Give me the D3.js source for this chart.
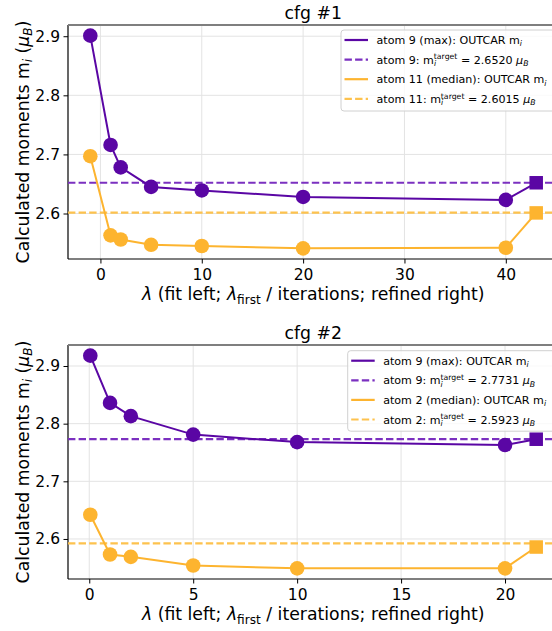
<!DOCTYPE html>
<html>
<head>
<meta charset="utf-8">
<script src="https://cdn.jsdelivr.net/npm/d3@7/dist/d3.min.js"></script>
<style>
  html, body { margin: 0; padding: 0; background: #fff; overflow: hidden; }
  svg { display: block; font-family: "DejaVu Sans", sans-serif; }
</style>
</head>
<body>
<svg id="chart" width="552" height="631"></svg>
<script>
// ---- data ----
const cfg1Lambda = [-1, 1, 2, 5, 10, 20, 40];
const cfg1Refined = 43;
const cfg1AtomA = [2.901, 2.716, 2.678, 2.645, 2.639, 2.628, 2.623];
const cfg1AtomARefined = 2.652;
const cfg1AtomB = [2.697, 2.563, 2.556, 2.547, 2.545, 2.541, 2.542];
const cfg1AtomBRefined = 2.601;
const cfg1TargetA = 2.6520;
const cfg1TargetB = 2.6015;
const cfg1XTicks = [0, 10, 20, 30, 40];

const cfg2Lambda = [0.05, 1, 2, 5, 10, 20];
const cfg2Refined = 21.5;
const cfg2AtomA = [2.918, 2.836, 2.813, 2.781, 2.768, 2.763];
const cfg2AtomARefined = 2.773;
const cfg2AtomB = [2.642, 2.573, 2.569, 2.554, 2.549, 2.549];
const cfg2AtomBRefined = 2.586;
const cfg2TargetA = 2.7731;
const cfg2TargetB = 2.5923;
const cfg2XTicks = [0, 5, 10, 15, 20];

const yTicks = [2.6, 2.7, 2.8, 2.9];

const PURPLE = "#5a06a4";
const ORANGE = "#fdb42f";
const PURPLE_D = "#7b30c0";
const ORANGE_D = "#fdc24e";

const TICK_FS = 15.5;
const LABEL_FS = 17.3;
const LEGEND_FS = 11.1;

const svg = d3.select("#chart");

// Append rich text made of segments: {t, it, sub, sup, dx}
function rich(sel, segs, baseSize) {
  let level = 0; // current baseline offset in px
  segs.forEach(s => {
    const ts = sel.append("tspan").text(s.t);
    let target = 0;
    let size = baseSize;
    if (s.sub) { target = baseSize * 0.22; size = baseSize * 0.7; }
    if (s.sup) { target = -baseSize * 0.38; size = baseSize * 0.7; }
    const dy = target - level;
    if (dy !== 0) ts.attr("dy", dy);
    level = target;
    ts.attr("font-size", size);
    if (s.it) ts.attr("font-style", "italic");
    if (s.dx) ts.attr("dx", s.dx);
  });
}

function panel(opt) {
  const { top, bottom, left, right } = opt;
  const allX = opt.lambda.concat([opt.refined]);
  const xe = d3.extent(allX);
  const xm = (xe[1] - xe[0]) * 0.05;
  const allY = opt.a.concat(opt.b, [opt.aRef, opt.bRef]);
  const ye = d3.extent(allY);
  const ym = (ye[1] - ye[0]) * 0.05;
  const x = d3.scaleLinear().domain([xe[0] - xm, xe[1] + xm]).range([left, right]);
  const y = d3.scaleLinear().domain([ye[0] - ym, ye[1] + ym]).range([bottom, top]);

  const g = svg.append("g");

  // grid
  g.selectAll(".gx").data(opt.xTicks).join("line")
    .attr("x1", d => x(d)).attr("x2", d => x(d))
    .attr("y1", top).attr("y2", bottom)
    .attr("stroke", "#e3e3e3").attr("stroke-width", 1);
  g.selectAll(".gy").data(yTicks).join("line")
    .attr("x1", left).attr("x2", right)
    .attr("y1", d => y(d)).attr("y2", d => y(d))
    .attr("stroke", "#e3e3e3").attr("stroke-width", 1);

  // axes
  const xAxis = d3.axisBottom(x).tickValues(opt.xTicks).tickFormat(d3.format("d"))
    .tickSize(4.5).tickPadding(5.5);
  const yAxis = d3.axisLeft(y).tickValues(yTicks).tickFormat(d3.format(".1f"))
    .tickSize(4.5).tickPadding(3.5);
  const gx = g.append("g").attr("transform", `translate(0,${bottom})`).call(xAxis);
  const gy = g.append("g").attr("transform", `translate(${left},0)`).call(yAxis);
  [gx, gy].forEach(a => {
    a.select(".domain").remove();
    a.selectAll("text").attr("font-size", TICK_FS).attr("fill", "#000")
      .attr("font-family", "DejaVu Sans, sans-serif");
    a.selectAll("line").attr("stroke", "#000");
  });

  // spines
  g.append("line").attr("x1", left).attr("x2", left).attr("y1", top).attr("y2", bottom)
    .attr("stroke", "#000").attr("stroke-width", 1.2);
  g.append("line").attr("x1", left).attr("x2", right).attr("y1", bottom).attr("y2", bottom)
    .attr("stroke", "#000").attr("stroke-width", 1.2);
  g.append("line").attr("x1", left).attr("x2", right).attr("y1", top).attr("y2", top)
    .attr("stroke", "#7f7f7f").attr("stroke-width", 2);

  // target lines
  [[opt.tA, PURPLE_D], [opt.tB, ORANGE_D]].forEach(([v, c]) => {
    g.append("line").attr("x1", left).attr("x2", right)
      .attr("y1", y(v)).attr("y2", y(v))
      .attr("stroke", c).attr("stroke-width", 2.2).attr("stroke-dasharray", "7.4,3.2");
  });

  // series: fitted points, then the refined value as a square
  const line = d3.line().x(d => x(d[0])).y(d => y(d[1]));
  [[opt.b, opt.bRef, ORANGE], [opt.a, opt.aRef, PURPLE]].forEach(([vals, ref, c]) => {
    const pts = opt.lambda.map((l, i) => [l, vals[i]]);
    const last = pts[pts.length - 1];
    g.append("path").datum(pts).attr("d", line)
      .attr("fill", "none").attr("stroke", c).attr("stroke-width", 2);
    g.append("path").datum([last, [opt.refined, ref]]).attr("d", line)
      .attr("fill", "none").attr("stroke", c).attr("stroke-width", 2);
    g.selectAll(null).data(pts).join("circle")
      .attr("cx", d => x(d[0])).attr("cy", d => y(d[1])).attr("r", 7.3).attr("fill", c);
    const s = 13.5;
    g.append("rect").attr("x", x(opt.refined) - s / 2).attr("y", y(ref) - s / 2)
      .attr("width", s).attr("height", s).attr("fill", c);
  });

  // title
  g.append("text").attr("x", (left + right) / 2).attr("y", top - 6)
    .attr("text-anchor", "middle").attr("font-size", LABEL_FS).text(opt.title);

  // x label
  const xl = g.append("text").attr("x", (left + right) / 2).attr("y", bottom + 41)
    .attr("text-anchor", "middle").attr("font-size", LABEL_FS);
  rich(xl, [
    { t: "λ", it: true }, { t: " (fit left; " }, { t: "λ", it: true },
    { t: "first", sub: true }, { t: " / iterations; refined right)" }
  ], LABEL_FS);

  // y label
  const yl = g.append("text")
    .attr("transform", `translate(${left - 39.5},${(top + bottom) / 2}) rotate(-90)`)
    .attr("text-anchor", "middle").attr("font-size", LABEL_FS);
  rich(yl, [
    { t: "Calculated moments m" }, { t: "i", it: true, sub: true },
    { t: " (" }, { t: "μ", it: true }, { t: "B", it: true, sub: true }, { t: ")" }
  ], LABEL_FS);

  // legend
  const L = opt.legend;
  const lg = g.append("g");
  lg.append("rect").attr("x", L.x).attr("y", L.y).attr("width", 230).attr("height", L.h)
    .attr("rx", 3).attr("fill", "#fff").attr("fill-opacity", 0.8)
    .attr("stroke", "#d0d0d0").attr("stroke-width", 1);
  L.rows.forEach((r, i) => {
    const ry = L.y + 10 + i * 19.6;
    lg.append("line").attr("x1", L.x + 3.5).attr("x2", L.x + 27)
      .attr("y1", ry).attr("y2", ry)
      .attr("stroke", r.c).attr("stroke-width", 2.2)
      .attr("stroke-dasharray", r.dash ? "7.4,3.2" : null);
    const t = lg.append("text").attr("x", L.x + 35.5).attr("y", ry + 4)
      .attr("font-size", LEGEND_FS);
    rich(t, r.segs, LEGEND_FS);
  });
}

function outcarSegs(label) {
  return [{ t: label + ": OUTCAR m" }, { t: "i", it: true, sub: true }];
}
function targetSegs(label, v) {
  return [
    { t: label + ": m" }, { t: "i", it: true, sub: true },
    { t: "target", sup: true, dx: -2.3 },
    { t: " = " + v.toFixed(4) + " " }, { t: "μ", it: true }, { t: "B", it: true, sub: true }
  ];
}

panel({
  title: "cfg #1", top: 25, bottom: 259, left: 68, right: 558.5,
  lambda: cfg1Lambda, refined: cfg1Refined,
  a: cfg1AtomA, aRef: cfg1AtomARefined, b: cfg1AtomB, bRef: cfg1AtomBRefined,
  tA: cfg1TargetA, tB: cfg1TargetB, xTicks: cfg1XTicks,
  legend: {
    x: 341, y: 30, h: 81,
    rows: [
      { c: PURPLE, segs: outcarSegs("atom 9 (max)") },
      { c: PURPLE_D, dash: true, segs: targetSegs("atom 9", cfg1TargetA) },
      { c: ORANGE, segs: outcarSegs("atom 11 (median)") },
      { c: ORANGE_D, dash: true, segs: targetSegs("atom 11", cfg1TargetB) }
    ]
  }
});

panel({
  title: "cfg #2", top: 345, bottom: 579, left: 68, right: 558.5,
  lambda: cfg2Lambda, refined: cfg2Refined,
  a: cfg2AtomA, aRef: cfg2AtomARefined, b: cfg2AtomB, bRef: cfg2AtomBRefined,
  tA: cfg2TargetA, tB: cfg2TargetB, xTicks: cfg2XTicks,
  legend: {
    x: 347.7, y: 350.7, h: 80.5,
    rows: [
      { c: PURPLE, segs: outcarSegs("atom 9 (max)") },
      { c: PURPLE_D, dash: true, segs: targetSegs("atom 9", cfg2TargetA) },
      { c: ORANGE, segs: outcarSegs("atom 2 (median)") },
      { c: ORANGE_D, dash: true, segs: targetSegs("atom 2", cfg2TargetB) }
    ]
  }
});
</script>
</body>
</html>
